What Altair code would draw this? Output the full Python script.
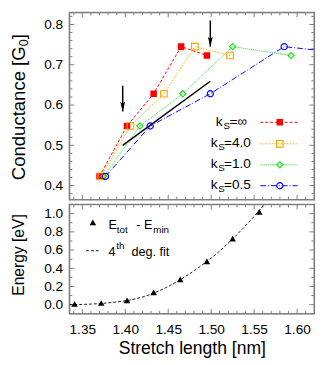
import altair as alt
import pandas as pd

# ---------------- data ----------------
COND_Y = [0.423, 0.548, 0.628, 0.745, 0.723]
X_KS_INF = [1.370, 1.402, 1.433, 1.465, 1.495]
X_KS_4 = [1.372, 1.406, 1.445, 1.481, 1.522]
X_KS_1 = [1.375, 1.417, 1.467, 1.525, 1.593]
X_KS_05 = [1.377, 1.429, 1.499, 1.585, 1.681]
KS_LABELS = ["=\u221e", "=4.0", "=1.0", "=0.5"]

GUIDE_X = [1.397, 1.499]
GUIDE_Y = [0.500, 0.659]
ARROW_X = [1.397, 1.499]
ARROW_FROM = [0.648, 0.810]
ARROW_TO = [0.584, 0.745]

E_X = [1.341, 1.372, 1.402, 1.433, 1.464, 1.495, 1.525, 1.556]
E_Y = [0.007, 0.018, 0.047, 0.136, 0.278, 0.475, 0.725, 1.020]
FIT_X = [1.335, 1.350, 1.370, 1.390, 1.410, 1.430, 1.450, 1.470, 1.490, 1.510, 1.530, 1.550, 1.562]
FIT_Y = [0.000, 0.003, 0.012, 0.030, 0.060, 0.115, 0.200, 0.310, 0.440, 0.590, 0.770, 0.970, 1.100]

X_MAJOR = [1.35, 1.40, 1.45, 1.50, 1.55, 1.60]
X_MINOR = [round(1.34 + 0.01 * i, 2) for i in range(28) if i % 5 != 1]
G_MAJOR = [0.4, 0.5, 0.6, 0.7, 0.8]
G_MINOR = [round(0.38 + 0.02 * i, 2) for i in range(23) if i % 5 != 1]
E_MAJOR = [0.0, 0.2, 0.4, 0.6, 0.8, 1.0]
E_MINOR = [0.1, 0.3, 0.5, 0.7, 0.9]

X_DOMAIN = [1.335, 1.62]
G_DOMAIN = [0.365, 0.83]
E_DOMAIN = [-0.1, 1.1]

# ---------------- layout ----------------
W, H = 251, 309
TOP_H = 192
BOT_Y0 = 197
GRAY = "#808080"
FONT = "Liberation Sans"

xs = alt.Scale(domain=X_DOMAIN, nice=False, zero=False)
x_axis = alt.Axis(values=X_MAJOR, format=".2f", ticks=False, domain=False, grid=False,
                  labelFontSize=14, labelPadding=9, labelColor="black",
                  title="Stretch length [nm]", titleFontSize=18, titleFontWeight="normal",
                  titlePadding=4, titleColor="black")
yts = alt.Scale(domain=G_DOMAIN, range=[TOP_H, 0], nice=False, zero=False)
yt_axis = alt.Axis(values=G_MAJOR, format=".1f", orient="left", ticks=False, domain=False,
                   grid=False, labelFontSize=14, labelPadding=7, labelColor="black", title="")
ybs = alt.Scale(domain=E_DOMAIN, range=[H, BOT_Y0], nice=False, zero=False)
yb_axis = alt.Axis(values=E_MAJOR, format=".1f", orient="left", ticks=False, domain=False,
                   grid=False, labelFontSize=14, labelPadding=7, labelColor="black", title="")

XE = alt.X("x:Q", scale=xs, axis=x_axis)
YT = alt.Y("y:Q", scale=yts, axis=yt_axis)
YB = alt.Y("y:Q", scale=ybs, axis=yb_axis)


def one():
    return pd.DataFrame({"a": [0]})


def frame(y0, y1):
    return alt.Chart(one()).mark_rect(fillOpacity=0, stroke=GRAY, strokeWidth=1.6).encode(
        x=alt.value(0), x2=alt.value(W), y=alt.value(y0), y2=alt.value(y1))


# x ticks (all four horizontal edges)
xt_rows = []
for v, L in [(v, 5) for v in X_MAJOR] + [(v, 3) for v in X_MINOR]:
    for e0, s in [(0, 1), (TOP_H, -1), (BOT_Y0, 1), (H, -1)]:
        xt_rows.append({"x": v, "p0": e0, "p1": e0 + s * L})
xticks = alt.Chart(pd.DataFrame(xt_rows)).mark_rule(color=GRAY, strokeWidth=1).encode(
    x=XE, y=alt.Y("p0:Q", scale=None), y2="p1:Q")


def yticks(major, minor, Y):
    rows = []
    for v, L in [(v, 5) for v in major] + [(v, 3) for v in minor]:
        rows.append({"y": v, "p0": 0, "p1": L})
        rows.append({"y": v, "p0": W, "p1": W - L})
    return alt.Chart(pd.DataFrame(rows)).mark_rule(color=GRAY, strokeWidth=1).encode(
        y=Y, x=alt.X("p0:Q", scale=None), x2="p1:Q")


def texts(rows, angle=0):
    df = pd.DataFrame(rows, columns=["t", "px", "py", "fs"])
    mk = dict(align="left", baseline="middle", color="black", font=FONT)
    if angle:
        mk["angle"] = angle
    return alt.Chart(df).mark_text(**mk).encode(
        x=alt.X("px:Q", scale=None), y=alt.Y("py:Q", scale=None),
        text="t:N", size=alt.Size("fs:Q", scale=None))


# ---------------- top panel ----------------
SERIES = [
    (X_KS_INF, "#ff0000", [3, 2], "square", True, 45),
    (X_KS_4, "#ffa500", [1.5, 1.5], "square", False, 45),
    (X_KS_1, "#22dd22", [1, 1], "diamond", False, 40),
    (X_KS_05, "#0000ff", [6, 2, 1, 2], "circle", False, 40),
]
LEG_Y = [112.7, 134.7, 156.3, 177.7]
K_X = [150, 145, 145, 145]
S_X = [158, 152.5, 152.5, 152.5]
R_X = [164, 158.5, 158.5, 158.5]

top_layers = [frame(0, TOP_H), xticks, yticks(G_MAJOR, G_MINOR, YT)]
line_layers, point_layers, leg_layers = [], [], []
leg_text = []
for i, (xv, col, dash, shape, filled, size) in enumerate(SERIES):
    df = pd.DataFrame({"x": xv, "y": COND_Y})
    line_layers.append(alt.Chart(df).mark_line(color=col, strokeDash=dash, strokeWidth=1,
                                               clip=True).encode(x=XE, y=YT))
    pm = dict(shape=shape, filled=filled, size=size, color=col, opacity=1,
              strokeWidth=1.2, clip=True)
    point_layers.append(alt.Chart(df).mark_point(**pm).encode(x=XE, y=YT))
    ldf = pd.DataFrame({"x0": [195.7], "x1": [234.0], "xm": [215.7], "ly": [LEG_Y[i]]})
    leg_layers.append(alt.Chart(ldf).mark_rule(color=col, strokeDash=dash, strokeWidth=1).encode(
        x=alt.X("x0:Q", scale=None), x2="x1:Q", y=alt.Y("ly:Q", scale=None)))
    leg_layers.append(alt.Chart(ldf).mark_point(**pm).encode(
        x=alt.X("xm:Q", scale=None), y=alt.Y("ly:Q", scale=None)))
    leg_text += [("k", K_X[i], LEG_Y[i] - 0.5, 14), ("S", S_X[i], LEG_Y[i] + 3.5, 10),
                 (KS_LABELS[i], R_X[i], LEG_Y[i] - 0.5, 14)]

guide = alt.Chart(pd.DataFrame({"x": GUIDE_X, "y": GUIDE_Y})).mark_line(
    color="black", strokeWidth=1.5).encode(x=XE, y=YT)
adf = pd.DataFrame({"x": ARROW_X, "y": ARROW_FROM, "y2": ARROW_TO})
shafts = alt.Chart(adf).mark_rule(color="black", strokeWidth=1.5).encode(x=XE, y=YT, y2="y2:Q")
heads = alt.Chart(pd.DataFrame({"x": ARROW_X, "y": ARROW_TO})).mark_point(
    shape="M0,1L-0.5,-1L0,-0.6L0.5,-1Z", filled=True, color="black", opacity=1,
    size=100, yOffset=-5).encode(x=XE, y=YT)

ytitle = texts([("Conductance [G", -52, 172, 19), ("0", -47, 34.7, 13),
                ("]", -52, 27.5, 19)], angle=270)

top = alt.layer(*top_layers, *line_layers, guide, shafts, heads, *point_layers,
                *leg_layers, texts(leg_text), ytitle)

# ---------------- bottom panel ----------------
fit = alt.Chart(pd.DataFrame({"x": FIT_X, "y": FIT_Y})).mark_line(
    color="black", strokeDash=[3, 2], strokeWidth=0.9, interpolate="monotone",
    clip=True).encode(x=XE, y=YB)
tri = alt.Chart(pd.DataFrame({"x": E_X, "y": E_Y})).mark_point(
    shape="triangle-up", filled=True, color="black", opacity=1, size=45).encode(x=XE, y=YB)
eleg = pd.DataFrame({"x0": [17.0], "x1": [31.0], "ly": [244.3], "tx": [24.0], "ty": [215.3]})
eleg_line = alt.Chart(eleg).mark_rule(color="black", strokeDash=[3, 2], strokeWidth=0.9).encode(
    x=alt.X("x0:Q", scale=None), x2="x1:Q", y=alt.Y("ly:Q", scale=None))
eleg_tri = alt.Chart(eleg).mark_point(shape="triangle-up", filled=True, color="black",
                                      opacity=1, size=45).encode(
    x=alt.X("tx:Q", scale=None), y=alt.Y("ty:Q", scale=None))
eleg_text = texts([("E", 40, 217.8, 13), ("tot", 48.5, 223.0, 10), ("- E", 68.5, 217.8, 13),
                   ("min", 86, 223.0, 10), ("4", 40, 245.3, 13), ("th", 48, 240.0, 10),
                   ("deg. fit", 63.5, 245.3, 13)])
etitle = texts([("Energy [eV]", -52, 290.5, 16)], angle=270)

bottom = alt.layer(frame(BOT_Y0, H), yticks(E_MAJOR, E_MINOR, YB), fit, tri,
                   eleg_line, eleg_tri, eleg_text, etitle)

chart = alt.layer(top, bottom).resolve_scale(y="independent").properties(
    width=W, height=H,
    autosize=alt.AutoSizeParams(type="none"),
    padding={"left": 63, "top": 0, "right": 10, "bottom": 48},
).configure_view(stroke=None).configure(font=FONT, background="white")

chart.save("out.html", embed_options={"renderer": "svg", "actions": False})
